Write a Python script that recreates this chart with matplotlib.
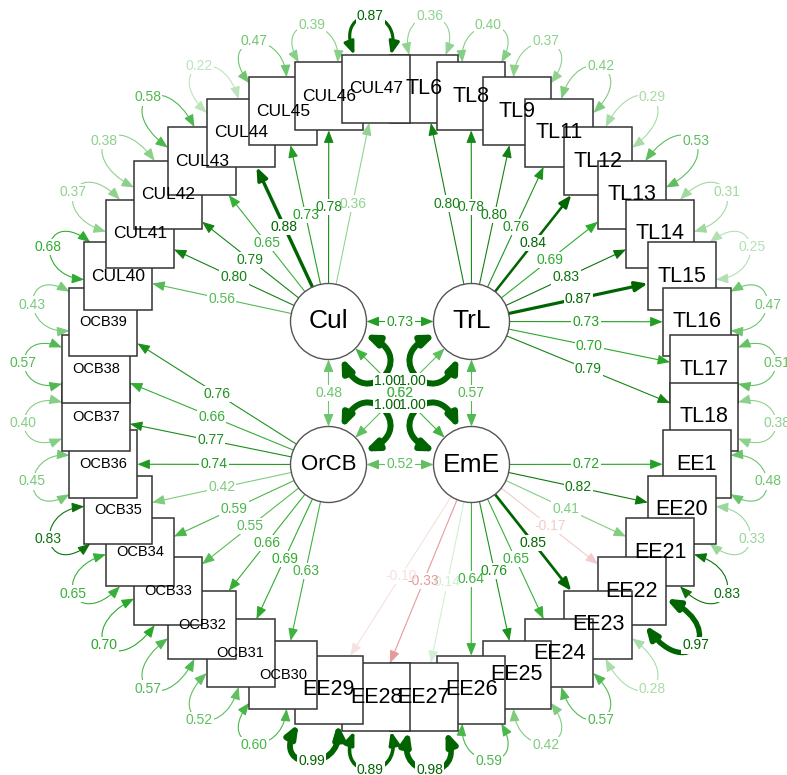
import numpy as np
import matplotlib.pyplot as plt
from matplotlib.patches import FancyArrowPatch, Rectangle, Circle
from matplotlib.path import Path
from matplotlib.colors import to_rgb

plt.rcParams['font.family'] = ['Liberation Sans', 'DejaVu Sans']

# observed indicators, clockwise starting just right of the top
items = ['TL6', 'TL8', 'TL9', 'TL11', 'TL12', 'TL13', 'TL14', 'TL15', 'TL16', 'TL17', 'TL18',
         'EE1', 'EE20', 'EE21', 'EE22', 'EE23', 'EE24', 'EE25', 'EE26', 'EE27', 'EE28', 'EE29',
         'OCB30', 'OCB31', 'OCB32', 'OCB33', 'OCB34', 'OCB35', 'OCB36', 'OCB37', 'OCB38', 'OCB39',
         'CUL40', 'CUL41', 'CUL42', 'CUL43', 'CUL44', 'CUL45', 'CUL46', 'CUL47']
loadings = [0.80, 0.78, 0.80, 0.76, 0.84, 0.69, 0.83, 0.87, 0.73, 0.70, 0.79,
            0.72, 0.82, 0.41, -0.17, 0.85, 0.65, 0.76, 0.64, 0.14, -0.33, -0.10,
            0.63, 0.69, 0.66, 0.55, 0.59, 0.42, 0.74, 0.77, 0.66, 0.76,
            0.56, 0.80, 0.79, 0.65, 0.88, 0.73, 0.78, 0.36]
residuals = [0.36, 0.40, 0.37, 0.42, 0.29, 0.53, 0.31, 0.25, 0.47, 0.51, 0.38,
             0.48, 0.33, 0.83, 0.97, 0.28, 0.57, 0.42, 0.59, 0.98, 0.89, 0.99,
             0.60, 0.52, 0.57, 0.70, 0.65, 0.83, 0.45, 0.40, 0.57, 0.43,
             0.68, 0.37, 0.38, 0.58, 0.22, 0.47, 0.39, 0.87]

latents = ['Cul', 'TrL', 'OrCB', 'EmE']
latent_var = [1.00, 1.00, 1.00, 1.00]
cov_pairs = [('Cul', 'TrL'), ('Cul', 'OrCB'), ('TrL', 'EmE'), ('OrCB', 'EmE'),
             ('TrL', 'OrCB'), ('Cul', 'EmE')]
cov_vals = [0.73, 0.48, 0.57, 0.52, 0.52, 0.62]

prefix_factor = {'TL': 'TrL', 'EE': 'EmE', 'OCB': 'OrCB', 'CUL': 'Cul'}

# layout (pixels)
W, H = 787, 775
O = np.array([400.0, 393.0])
R = 305.0
HS = 34.0      # half size of the boxes
LR = 38.0      # latent circle radius
G = 71.5
lat_pos = {'Cul': O + [-G, -G], 'TrL': O + [G, -G], 'OrCB': O + [-G, G], 'EmE': O + [G, G]}
lat_fs = {'Cul': 19, 'TrL': 19, 'OrCB': 16, 'EmE': 19}
item_fs = {'TL': 15.5, 'EE': 15.5, 'OCB': 10.5, 'CUL': 12.5}

CUT = 0.835
WHITE = np.array([1.0, 1.0, 1.0])


def edge_style(w):
    a = abs(w)
    if w < 0:
        base = np.array(to_rgb('#BF0000'))
    elif a >= CUT:
        return to_rgb('#006400'), (2.4 + (a - CUT) / (1 - CUT) * 3.6) * 0.72
    else:
        f = np.clip((a - 0.7) / (CUT - 0.7), 0, 1)
        base = (1 - f) * np.array(to_rgb('#009900')) + f * np.array(to_rgb('#0a700a'))
    al = min(1.0, a / CUT)
    col = WHITE * (1 - al) + base * al
    return tuple(col), 1.1 * 0.72


def prefix(name):
    return name.rstrip('0123456789')


def box_dist(u):
    return HS / max(abs(u[0]), abs(u[1]))


def rot(u, deg):
    t = np.radians(deg)
    return np.array([u[0] * np.cos(t) - u[1] * np.sin(t), u[0] * np.sin(t) + u[1] * np.cos(t)])


def label(ax, p, w, fs=10):
    col, _ = edge_style(w)
    txt = f'{w:.2f}'
    # backgrounds first, texts on top, so overlapping labels stay readable
    ax.text(p[0], p[1], txt, ha='center', va='center', fontsize=fs, color='white',
            bbox=dict(boxstyle='square,pad=0.08', fc='white', ec='none'), zorder=1.5)
    ax.text(p[0], p[1], txt, ha='center', va='center', fontsize=fs, color=col, zorder=1.6)


def straight(ax, p0, p1, w, style):
    col, lw = edge_style(w)
    ax.add_patch(FancyArrowPatch(p0, p1, arrowstyle=f'{style},head_length=0.75,head_width=0.3',
                                 mutation_scale=10, color=col, lw=lw, shrinkA=0, shrinkB=0,
                                 zorder=1))
    label(ax, (np.array(p0) + np.array(p1)) / 2, w)


def loop(ax, e1, e2, out, apex_target, w, spread, label_pt):
    col, lw = edge_style(w)
    mid = (e1 + e2) / 2
    h = (apex_target - np.dot(mid, out)) / 0.75
    s1 = (e1 - mid) / np.linalg.norm(e1 - mid)
    s2 = (e2 - mid) / np.linalg.norm(e2 - mid)
    p1 = e1 + out * h + s1 * spread
    p2 = e2 + out * h + s2 * spread
    path = Path([e1, p1, p2, e2], [Path.MOVETO, Path.CURVE4, Path.CURVE4, Path.CURVE4])
    ax.add_patch(FancyArrowPatch(path=path, arrowstyle='<|-|>,head_length=0.75,head_width=0.3',
                                 mutation_scale=10, color=col, lw=lw, zorder=1))
    label(ax, label_pt, w)


fig = plt.figure(figsize=(W / 100, H / 100), dpi=100)
ax = fig.add_axes([0, 0, 1, 1])
ax.set_xlim(0, W)
ax.set_ylim(H, 0)
ax.axis('off')

n = len(items)
angles = 4.5 + 360.0 / n * np.arange(n)
item_pos = [O + R * np.array([np.sin(np.radians(a)), -np.cos(np.radians(a))]) for a in angles]

for i, name in enumerate(items):
    M = item_pos[i]
    L = lat_pos[prefix_factor[prefix(name)]]
    u = (M - L) / np.linalg.norm(M - L)
    straight(ax, L + u * LR, M - u * box_dist(u), loadings[i], '-|>')

    # residual variance loop, outside the ring of boxes
    out = (M - O) / np.linalg.norm(M - O)
    d1, d2 = rot(out, -28), rot(out, 28)
    e1 = d1 * box_dist(d1)
    e2 = d2 * box_dist(d2)
    apex = box_dist(out) + 38
    loop(ax, M + e1, M + e2, out, apex + np.dot(M, out), residuals[i], 16, M + out * (apex + 1))

    ax.add_patch(Rectangle((M[0] - HS, M[1] - HS), 2 * HS, 2 * HS, fc='white', ec='#333333',
                           lw=1.1, zorder=2 + 0.01 * i))
    ax.text(M[0], M[1], name, ha='center', va='center', fontsize=item_fs[prefix(name)],
            color='black', zorder=4)

for (a, b), v in zip(cov_pairs, cov_vals):
    A, B = lat_pos[a], lat_pos[b]
    u = (B - A) / np.linalg.norm(B - A)
    straight(ax, A + u * LR, B - u * LR, v, '<|-|>')

for name, v in zip(latents, latent_var):
    L = lat_pos[name]
    d = (O - L) / np.linalg.norm(O - L)
    e1 = L + rot(d, -25) * LR
    e2 = L + rot(d, 25) * LR
    loop(ax, e1, e2, d, np.dot(L, d) + 76, v, 22, L + d * 84)

for name in latents:
    L = lat_pos[name]
    ax.add_patch(Circle(L, LR, fc='white', ec='#555555', lw=1.0, zorder=3))
    ax.text(L[0], L[1], name, ha='center', va='center', fontsize=lat_fs[name], color='black',
            zorder=4)

fig.savefig('out.png', dpi=100)
